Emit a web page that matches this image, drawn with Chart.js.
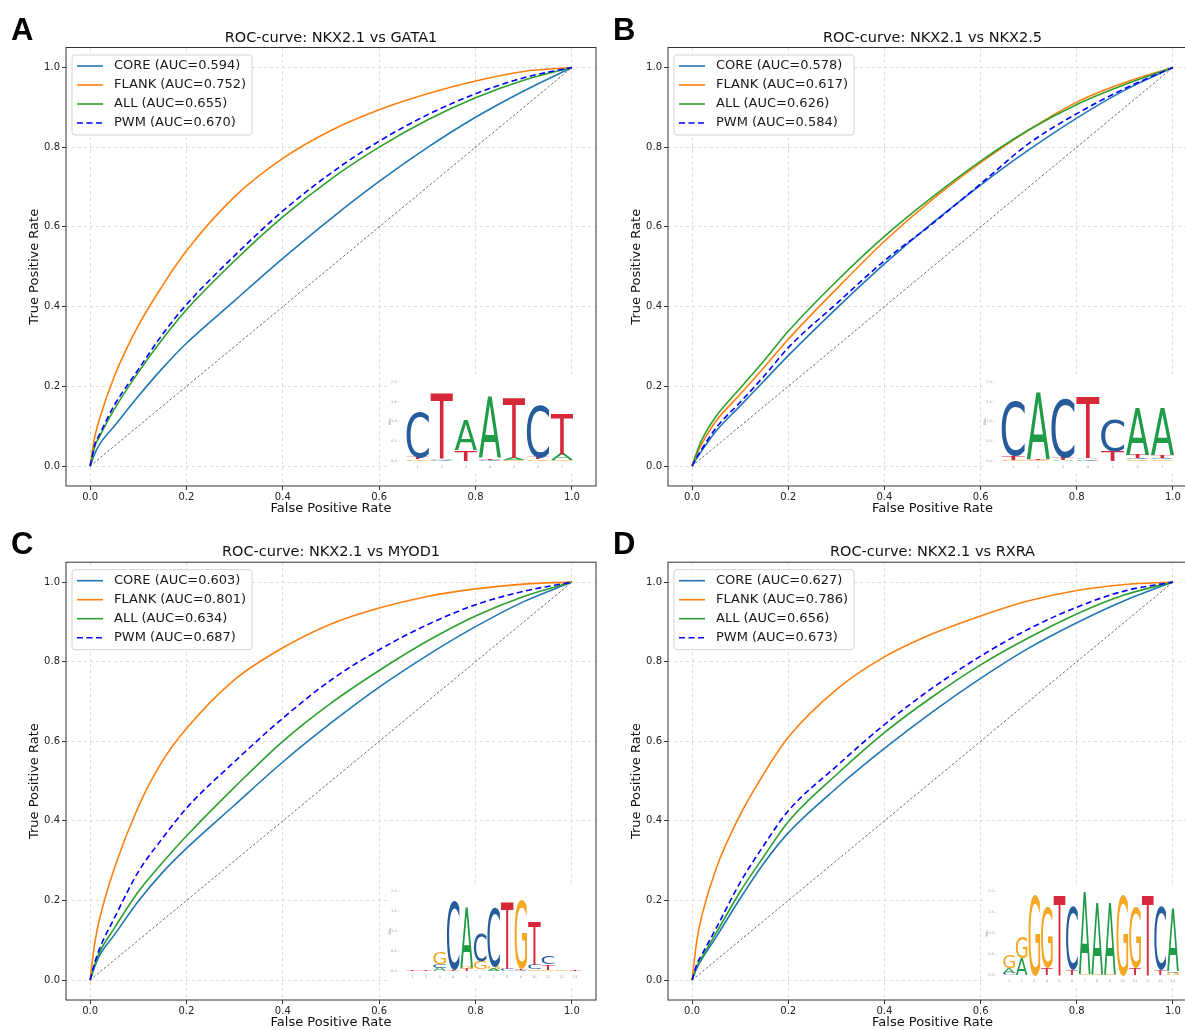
<!DOCTYPE html>
<html>
<head>
<meta charset="utf-8">
<script src="https://cdn.jsdelivr.net/npm/chart.js@4.4.1/dist/chart.umd.min.js"></script>
<style>
  html, body { margin: 0; padding: 0; background: #fff; overflow: hidden; }
  #fig { position: relative; width: 1185px; height: 1030px; overflow: hidden; background: #fff; }
  #fig canvas { position: absolute; }
  .tag { position: absolute; font: bold 31px "Liberation Sans", Arial, sans-serif; line-height: 31px; color: #000; }
</style>
</head>
<body>
<div id="fig">
  <canvas id="cA" width="600" height="520" style="left:0;top:0"></canvas>
  <canvas id="cB" width="600" height="520" style="left:600px;top:0"></canvas>
  <canvas id="cC" width="600" height="515" style="left:0;top:515px"></canvas>
  <canvas id="cD" width="600" height="515" style="left:600px;top:515px"></canvas>
  <div class="tag" style="left:11px;top:14px">A</div>
  <div class="tag" style="left:613px;top:14px">B</div>
  <div class="tag" style="left:11px;top:528px">C</div>
  <div class="tag" style="left:613px;top:528px">D</div>
</div>
<script>
// false positive rate grid shared by all curves
const fpr = [0, 0.01, 0.02, 0.05, 0.1, 0.15, 0.2, 0.3, 0.4, 0.5, 0.6, 0.7, 0.8, 0.9, 1];

// A: NKX2.1 vs GATA1
const gata1Core  = [0, 0.032, 0.055, 0.1, 0.175, 0.245, 0.308, 0.415, 0.521, 0.621, 0.714, 0.799, 0.875, 0.941, 1];
const gata1Flank = [0, 0.075, 0.12, 0.224, 0.352, 0.452, 0.54, 0.676, 0.772, 0.842, 0.894, 0.934, 0.966, 0.99, 1];
const gata1All   = [0, 0.05, 0.075, 0.142, 0.235, 0.318, 0.392, 0.515, 0.625, 0.72, 0.80, 0.868, 0.924, 0.968, 1];
const gata1Pwm   = [0, 0.055, 0.08, 0.152, 0.242, 0.33, 0.405, 0.528, 0.64, 0.735, 0.815, 0.881, 0.934, 0.974, 1];
const gata1Auc   = ['0.594', '0.752', '0.655', '0.670'];

// B: NKX2.1 vs NKX2.5
const nkx25Core  = [0, 0.02, 0.038, 0.088, 0.151, 0.214, 0.277, 0.395, 0.507, 0.61, 0.705, 0.793, 0.873, 0.943, 1];
const nkx25Flank = [0, 0.03, 0.055, 0.113, 0.18, 0.248, 0.318, 0.444, 0.564, 0.669, 0.761, 0.843, 0.913, 0.962, 1];
const nkx25All   = [0, 0.035, 0.065, 0.125, 0.195, 0.265, 0.338, 0.463, 0.576, 0.675, 0.765, 0.843, 0.907, 0.957, 1];
const nkx25Pwm   = [0, 0.022, 0.042, 0.096, 0.16, 0.226, 0.297, 0.407, 0.515, 0.608, 0.708, 0.809, 0.884, 0.947, 1];
const nkx25Auc   = ['0.578', '0.617', '0.626', '0.584'];

// C: NKX2.1 vs MYOD1
const myod1Core  = [0, 0.035, 0.063, 0.113, 0.198, 0.27, 0.331, 0.44, 0.548, 0.646, 0.736, 0.816, 0.888, 0.951, 1];
const myod1Flank = [0, 0.096, 0.155, 0.28, 0.435, 0.55, 0.632, 0.755, 0.835, 0.895, 0.935, 0.964, 0.983, 0.995, 1];
const myod1All   = [0, 0.04, 0.071, 0.13, 0.222, 0.295, 0.362, 0.485, 0.6, 0.696, 0.778, 0.852, 0.915, 0.964, 1];
const myod1Pwm   = [0, 0.045, 0.08, 0.155, 0.272, 0.356, 0.432, 0.549, 0.658, 0.754, 0.83, 0.893, 0.943, 0.977, 1];
const myod1Auc   = ['0.603', '0.801', '0.634', '0.687'];

// D: NKX2.1 vs RXRA
const rxraCore  = [0, 0.03, 0.052, 0.108, 0.205, 0.295, 0.37, 0.482, 0.582, 0.674, 0.758, 0.834, 0.898, 0.954, 1];
const rxraFlank = [0, 0.1, 0.16, 0.28, 0.415, 0.52, 0.61, 0.73, 0.812, 0.87, 0.915, 0.953, 0.979, 0.994, 1];
const rxraAll   = [0, 0.035, 0.056, 0.118, 0.222, 0.312, 0.398, 0.516, 0.622, 0.712, 0.792, 0.86, 0.92, 0.968, 1];
const rxraPwm   = [0, 0.04, 0.063, 0.13, 0.245, 0.34, 0.425, 0.537, 0.642, 0.734, 0.814, 0.882, 0.937, 0.978, 1];
const rxraAuc   = ['0.627', '0.786', '0.656', '0.673'];

const tickValues = [0, 0.2, 0.4, 0.6, 0.8, 1.0];
const bitTicks = [0, 0.5, 1, 1.5, 2];

// sequence logos: each position is a stack [letter, bits] from bottom to top
const logoGata1 = [
  [['G', 0.04], ['T', 0.05], ['C', 1.15]],
  [['C', 0.03], ['A', 0.03], ['T', 1.66]],
  [['T', 0.27], ['A', 0.77]],
  [['C', 0.03], ['T', 0.04], ['A', 1.53]],
  [['G', 0.03], ['A', 0.05], ['T', 1.54]],
  [['G', 0.04], ['T', 0.05], ['C', 1.35]],
  [['G', 0.03], ['A', 0.15], ['T', 1.03]]
];
const logoNkx25 = [
  [['G', 0.03], ['T', 0.1], ['C', 1.41]],
  [['G', 0.03], ['T', 0.03], ['A', 1.69]],
  [['A', 0.03], ['T', 0.06], ['C', 1.51]],
  [['C', 0.04], ['A', 0.04], ['T', 1.57]],
  [['T', 0.25], ['C', 0.81]],
  [['G', 0.04], ['C', 0.04], ['T', 0.08], ['A', 1.18]],
  [['G', 0.04], ['C', 0.04], ['T', 0.07], ['A', 1.18]]
];
const logoMyod1 = [
  [['T', 0.02]],
  [['T', 0.02]],
  [['A', 0.08], ['C', 0.1], ['G', 0.3]],
  [['T', 0.04], ['C', 1.74]],
  [['T', 0.05], ['G', 0.05], ['A', 1.48]],
  [['A', 0.04], ['G', 0.2], ['C', 0.71]],
  [['A', 0.05], ['G', 0.05], ['C', 1.5]],
  [['C', 0.05], ['T', 1.68]],
  [['C', 0.03], ['T', 0.03], ['G', 1.74]],
  [['G', 0.04], ['C', 0.12], ['T', 1.07]],
  [['G', 0.04], ['T', 0.14], ['C', 0.19]],
  [['G', 0.02]],
  [['T', 0.03]]
];
const logoRxra = [
  [['C', 0.05], ['A', 0.12], ['G', 0.33]],
  [['A', 0.4], ['G', 0.52]],
  [['G', 1.95]],
  [['T', 0.17], ['G', 1.45]],
  [['T', 1.92]],
  [['T', 0.12], ['C', 1.52]],
  [['G', 0.03], ['A', 1.95]],
  [['G', 0.03], ['A', 1.7]],
  [['G', 0.03], ['A', 1.7]],
  [['G', 1.95]],
  [['T', 0.17], ['G', 1.45]],
  [['T', 1.92]],
  [['T', 0.12], ['C', 1.52]],
  [['G', 0.05], ['C', 0.04], ['A', 1.5]]
];

const seriesNames = ['CORE', 'FLANK', 'ALL', 'PWM'];
const seriesColors = ['#1f77b4', '#ff7f0e', '#2ca02c', '#0000ff'];
const logoColors = { A: '#1f9c48', C: '#265b9c', G: '#f5a623', T: '#d62839' };
const FONT = '"DejaVu Sans", Verdana, sans-serif';

function series(y) {
  return fpr.map((x, i) => ({ x: x, y: y[i] }));
}

function drawLetter(ctx, ch, x, yTop, w, h) {
  ctx.save();
  ctx.font = '100px ' + FONT;
  ctx.textAlign = 'left';
  ctx.textBaseline = 'alphabetic';
  const m = ctx.measureText(ch);
  const gw = m.actualBoundingBoxLeft + m.actualBoundingBoxRight;
  const gh = m.actualBoundingBoxAscent + m.actualBoundingBoxDescent;
  ctx.translate(x, yTop);
  ctx.scale(w / gw, h / gh);
  ctx.fillStyle = logoColors[ch];
  ctx.fillText(ch, m.actualBoundingBoxLeft, m.actualBoundingBoxAscent);
  ctx.restore();
}

function drawLogo(chart, g, letters) {
  const ctx = chart.ctx, a = chart.chartArea;
  const xs = chart.scales.x, ys = chart.scales.y;
  const px = v => xs.getPixelForValue(v), py = v => ys.getPixelForValue(v);
  ctx.save();
  ctx.beginPath();
  ctx.rect(a.left, a.top, a.right - a.left, a.bottom - a.top);
  ctx.clip();
  // white image background
  const bx1 = px(g.box[0]), bx2 = px(g.box[1]), by1 = py(g.box[3]), by2 = py(g.box[2]);
  ctx.fillStyle = '#fff';
  ctx.fillRect(bx1, by1, bx2 - bx1, by2 - by1);

  const x0 = px(g.x0);
  const step = px(g.x0 + g.dx) - x0;
  const base = py(g.y0);
  const bitPx = base - py(g.y0 + g.bit);

  // tiny logo axes
  ctx.fillStyle = '#9a9a9a';
  ctx.strokeStyle = '#b5b5b5';
  ctx.lineWidth = 0.5;
  ctx.font = '3.5px ' + FONT;
  ctx.textAlign = 'right';
  ctx.textBaseline = 'middle';
  bitTicks.forEach(b => {
    const y = base - b * bitPx;
    ctx.fillText(b.toFixed(1), x0 - 9, y);
    ctx.beginPath();
    ctx.moveTo(x0 - 8, y);
    ctx.lineTo(x0 - 6.5, y);
    ctx.stroke();
  });
  ctx.save();
  ctx.translate(x0 - 16, base - bitPx);
  ctx.rotate(-Math.PI / 2);
  ctx.textAlign = 'center';
  ctx.fillText('Bits', 0, 0);
  ctx.restore();

  letters.forEach((stack, i) => {
    const cx = x0 + step * i;
    ctx.fillStyle = '#9a9a9a';
    ctx.font = '3.5px ' + FONT;
    ctx.textAlign = 'center';
    ctx.textBaseline = 'middle';
    ctx.fillText(String(i + 1), cx + step / 2, base + 6);
    let y = base;
    stack.forEach(([ch, h]) => {
      const hp = h * bitPx;
      if (hp >= 0.6) drawLetter(ctx, ch, cx + step * 0.03, y - hp, step * 0.94, hp);
      y -= hp;
    });
  });
  ctx.restore();
}

function drawLegend(chart) {
  const ctx = chart.ctx, a = chart.chartArea;
  const sets = chart.data.datasets.filter(d => d.label);
  ctx.save();
  ctx.font = '13px ' + FONT;
  let tw = 0;
  sets.forEach(d => { tw = Math.max(tw, ctx.measureText(d.label).width); });
  const left = a.left + 6, top = a.top + 7.5;
  const w = tw + 48, h = 80;
  ctx.beginPath();
  ctx.roundRect(left, top, w, h, 3);
  ctx.fillStyle = 'rgba(255,255,255,0.85)';
  ctx.fill();
  ctx.strokeStyle = '#d4d4d4';
  ctx.lineWidth = 1;
  ctx.stroke();
  sets.forEach((d, i) => {
    const y = top + 11 + 19 * i;
    ctx.beginPath();
    ctx.setLineDash(d.borderDash || []);
    ctx.strokeStyle = d.borderColor;
    ctx.lineWidth = 1.6;
    ctx.moveTo(left + 5, y);
    ctx.lineTo(left + 31, y);
    ctx.stroke();
    ctx.setLineDash([]);
    ctx.fillStyle = '#1a1a1a';
    ctx.textAlign = 'left';
    ctx.textBaseline = 'middle';
    ctx.fillText(d.label, left + 42, y);
  });
  ctx.restore();
}

function overlay(p) {
  return {
    id: 'overlay',
    afterDatasetsDraw(chart) {
      const ctx = chart.ctx, a = chart.chartArea;
      drawLogo(chart, p.logo, p.letters);
      drawLegend(chart);
      ctx.save();
      ctx.strokeStyle = '#333';
      ctx.lineWidth = 1;
      ctx.strokeRect(a.left, a.top, a.right - a.left, a.bottom - a.top);
      ctx.restore();
    }
  };
}

function buildChart(p) {
  const datasets = p.curves.map((c, i) => ({
    label: seriesNames[i] + ' (AUC=' + p.auc[i] + ')',
    data: series(c),
    borderColor: seriesColors[i],
    borderWidth: 1.6,
    borderDash: i === 3 ? [6, 3.5] : [],
    pointRadius: 0,
    cubicInterpolationMode: 'monotone',
    order: 4 - i
  }));
  // chance line
  datasets.push({
    label: '',
    data: [{ x: 0, y: 0 }, { x: 1, y: 1 }],
    borderColor: '#444',
    borderWidth: 0.8,
    borderDash: [2.5, 2],
    pointRadius: 0,
    order: 0
  });

  const tickFont = { family: FONT, size: 10 };
  const titleFont = { family: FONT, size: 13 };

  new Chart(document.getElementById(p.canvas), {
    type: 'line',
    data: { datasets: datasets },
    options: {
      responsive: false,
      animation: false,
      devicePixelRatio: 1,
      layout: { padding: { left: 0, right: p.pr, top: 0, bottom: 0 } },
      scales: {
        x: {
          type: 'linear', min: -0.05, max: 1.05,
          afterBuildTicks: s => { s.ticks = tickValues.map(v => ({ value: v })); },
          afterFit: s => { s.height = p.xh; },
          grid: { color: '#dcdcdc', tickColor: '#333', tickLength: 4, tickWidth: 1 },
          border: { display: false, dash: [3, 3] },
          ticks: { color: '#222', font: tickFont, padding: 1, maxRotation: 0, autoSkip: false, callback: v => v.toFixed(1) },
          title: { display: true, text: 'False Positive Rate', color: '#111', font: titleFont, padding: { top: 0, bottom: p.xpb } }
        },
        y: {
          type: 'linear', min: -0.05, max: 1.05,
          afterBuildTicks: s => { s.ticks = tickValues.map(v => ({ value: v })); },
          afterFit: s => { s.width = p.yw; },
          grid: { color: '#dcdcdc', tickColor: '#333', tickLength: 4, tickWidth: 1 },
          border: { display: false, dash: [3, 3] },
          ticks: { color: '#222', font: tickFont, padding: 2, autoSkip: false, callback: v => v.toFixed(1) },
          title: { display: true, text: 'True Positive Rate', color: '#111', font: titleFont, padding: { top: p.ypt, bottom: 0 } }
        }
      },
      plugins: {
        legend: { display: false },
        tooltip: { enabled: false },
        title: {
          display: true, text: p.title, fullSize: false, color: '#111',
          font: { family: FONT, size: 14.5, weight: 'normal' },
          padding: { top: p.tpt, bottom: p.tpb }
        }
      }
    },
    plugins: [overlay(p)]
  });
}

buildChart({
  canvas: 'cA', title: 'ROC-curve: NKX2.1 vs GATA1',
  curves: [gata1Core, gata1Flank, gata1All, gata1Pwm], auc: gata1Auc,
  yw: 66, pr: 4, xh: 34, xpb: 3.7, ypt: 27.2, tpt: 29.3, tpb: 0.8,
  logo: { x0: 0.655, dx: 0.0499, y0: 0.0126, bit: 0.0992, box: [0.62, 1.05, -0.015, 0.224] },
  letters: logoGata1
});
buildChart({
  canvas: 'cB', title: 'ROC-curve: NKX2.1 vs NKX2.5',
  curves: [nkx25Core, nkx25Flank, nkx25All, nkx25Pwm], auc: nkx25Auc,
  yw: 68, pr: 3, xh: 34, xpb: 3.7, ypt: 29.2, tpt: 29.3, tpb: 0.8,
  logo: { x0: 0.642, dx: 0.0517, y0: 0.0126, bit: 0.0992, box: [0.607, 1.05, -0.015, 0.231] },
  letters: logoNkx25
});
buildChart({
  canvas: 'cC', title: 'ROC-curve: NKX2.1 vs MYOD1',
  curves: [myod1Core, myod1Flank, myod1All, myod1Pwm], auc: myod1Auc,
  yw: 66, pr: 4, xh: 30, xpb: 0, ypt: 27.2, tpt: 28.8, tpb: 1.0,
  logo: { x0: 0.655, dx: 0.0281, y0: 0.0226, bit: 0.1005, box: [0.617, 1.05, -0.015, 0.244] },
  letters: logoMyod1
});
buildChart({
  canvas: 'cD', title: 'ROC-curve: NKX2.1 vs RXRA',
  curves: [rxraCore, rxraFlank, rxraAll, rxraPwm], auc: rxraAuc,
  yw: 68, pr: 3, xh: 30, xpb: 0, ypt: 29.2, tpt: 28.8, tpb: 1.0,
  logo: { x0: 0.646, dx: 0.0262, y0: 0.0126, bit: 0.105, box: [0.611, 1.05, -0.015, 0.234] },
  letters: logoRxra
});
</script>
</body>
</html>
